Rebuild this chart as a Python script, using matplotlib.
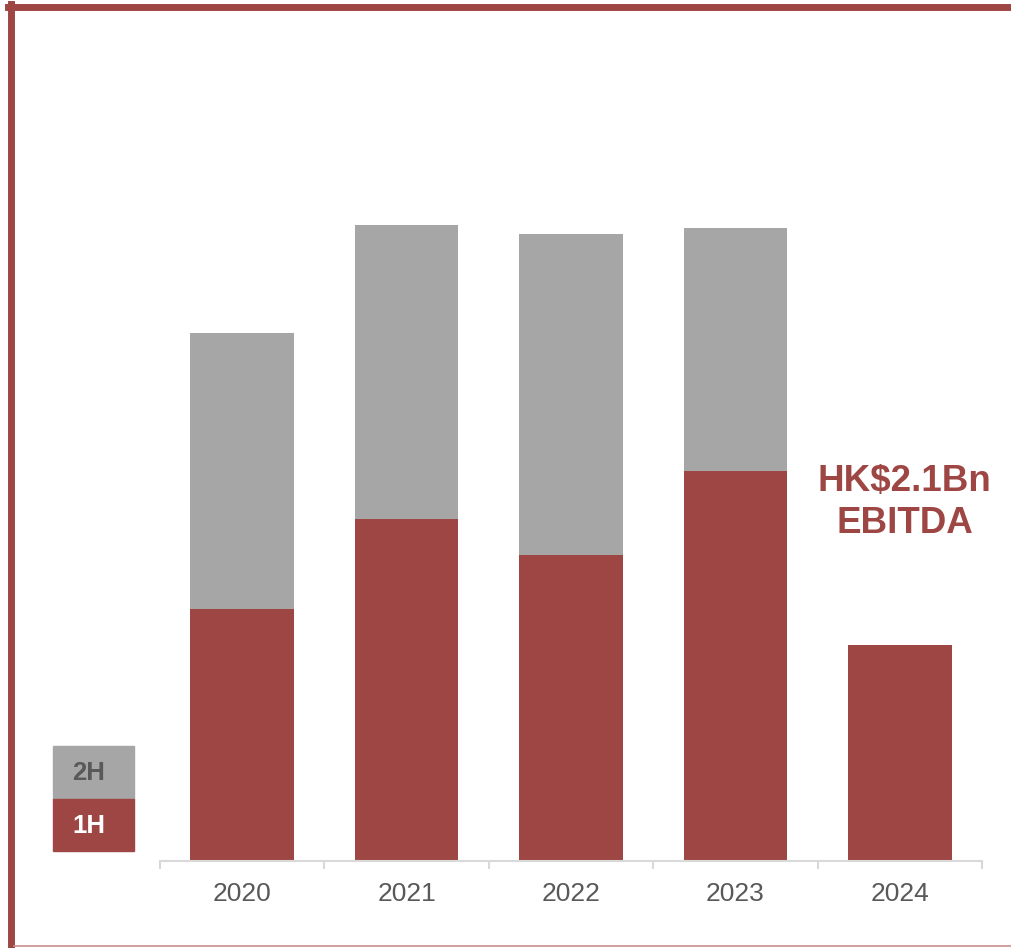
import matplotlib.pyplot as plt
from matplotlib.patches import Rectangle
from matplotlib.lines import Line2D

# EBITDA par semestre (HK$ Bn)
years = ["2020", "2021", "2022", "2023", "2024"]
first_half = [0.84, 1.14, 1.02, 1.30, 0.72]
second_half = [0.92, 0.98, 1.07, 0.81, 0.0]

red = "#9E4644"
grey = "#A6A6A6"
text_grey = "#595959"

W, H = 1012, 948
fig = plt.figure(figsize=(W / 100, H / 100), dpi=100)


def px(x0, y0, x1, y1):
    # rectangle en pixels (haut-gauche) -> coordonnées figure
    return [x0 / W, 1 - y1 / H, (x1 - x0) / W, (y1 - y0) / H]


ymax = 2.8
top_px = 861 - ymax * 300
ax = fig.add_axes(px(160, top_px, 982, 861))
x = list(range(len(years)))
ax.bar(x, first_half, width=0.63, color=red)
ax.bar(x, second_half, width=0.63, bottom=first_half, color=grey)
ax.set_xlim(-0.5, len(years) - 0.5)
ax.set_ylim(0, ymax)

for side in ["top", "right", "left"]:
    ax.spines[side].set_visible(False)
ax.spines["bottom"].set_color("#D9D9D9")
ax.spines["bottom"].set_linewidth(1.5)
ax.set_yticks([])
ax.set_xticks([i - 0.5 for i in range(len(years) + 1)], minor=False)
ax.set_xticklabels([])
ax.tick_params(axis="x", which="major", length=6, width=1.5, color="#D9D9D9")
ax.set_xticks(x, minor=True)
ax.set_xticklabels(years, minor=True, fontsize=19, color=text_grey,
                   family="Liberation Sans")
ax.tick_params(axis="x", which="minor", length=0, pad=15)

ax.text(4.03, 1.195, "HK$2.1Bn\nEBITDA", ha="center", va="center",
        fontsize=26.5, fontweight="bold", color=red, family="Liberation Sans",
        linespacing=1.25)

# légende en blocs
fig.add_artist(Rectangle((53 / W, 1 - 799 / H), 81 / W, 53 / H,
                         transform=fig.transFigure, color=grey))
fig.add_artist(Rectangle((53 / W, 1 - 851 / H), 81 / W, 52 / H,
                         transform=fig.transFigure, color=red))
fig.text(89 / W, 1 - 773 / H, "2H", ha="center", va="center", fontsize=18.5,
         fontweight="bold", color=text_grey, family="Liberation Sans")
fig.text(89 / W, 1 - 826 / H, "1H", ha="center", va="center", fontsize=18.5,
         fontweight="bold", color="white", family="Liberation Sans")

# cadre
fig.add_artist(Line2D([11 / W, 11 / W], [0, 1 - 4 / H], transform=fig.transFigure,
                      color=red, linewidth=5))
fig.add_artist(Line2D([8 / W, 1], [1 - 7 / H, 1 - 7 / H], transform=fig.transFigure,
                      color=red, linewidth=5))
fig.add_artist(Line2D([14 / W, 1], [1 - 946 / H, 1 - 946 / H],
                      transform=fig.transFigure, color="#C98F8E", linewidth=1.2))

fig.savefig("out.png", dpi=100)
